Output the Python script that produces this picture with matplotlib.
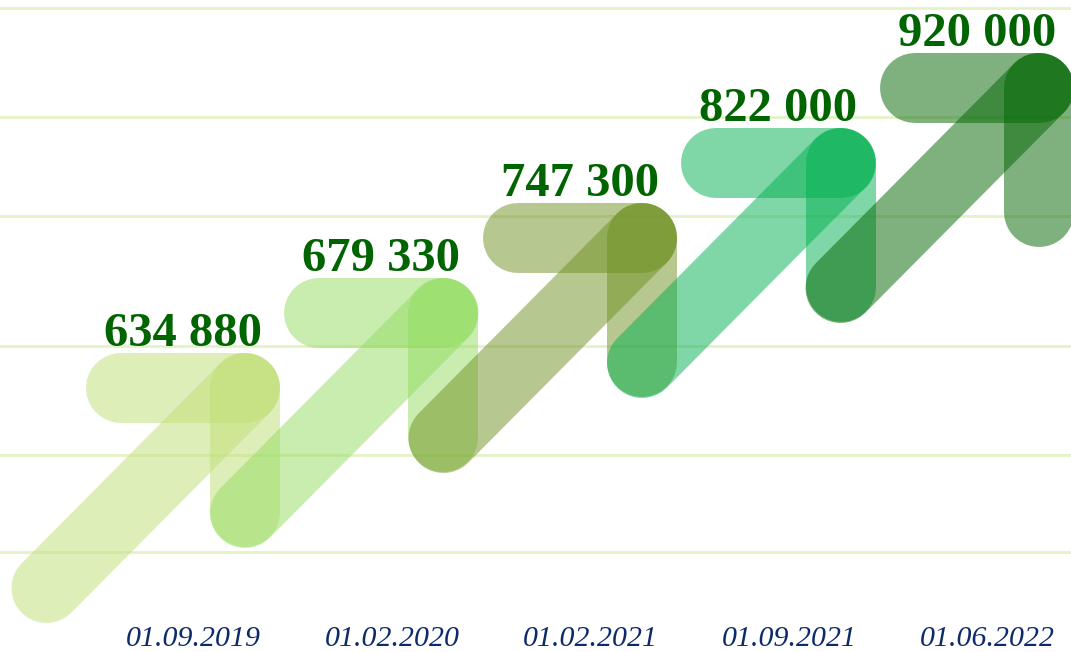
#!/usr/bin/env python3

# growth arrows with amounts by date
import matplotlib.pyplot as plt

# data
dates = ["01.09.2019", "01.02.2020", "01.02.2021", "01.09.2021", "01.06.2022"]
amounts = [634880, 679330, 747300, 822000, 920000]
arrow_colors = ["#bfdf75", "#93dd61", "#6f9121", "#01b151", "#016501"]

# background guide lines, as fraction of figure height
grid_levels = [0.988, 0.821, 0.669, 0.469, 0.302, 0.153]


def fmt(v):
    return f"{v:,}".replace(",", " ")


def main():
    fig = plt.figure(figsize=(10.71, 6.52), dpi=100, facecolor="white")

    # guide lines behind everything
    bg = fig.add_axes([0, 0, 1, 1])
    bg.set_xlim(0, 1)
    bg.set_ylim(0, 1)
    bg.axis("off")
    for g in grid_levels:
        bg.axhline(g, color="#e4f2c8", lw=2.0, zorder=0)

    ax = fig.add_axes([0, 0, 1, 1])
    ax.patch.set_alpha(0)
    ax.axis("off")
    ax.set_xlim(-1.234, 4.161)
    ax.set_ylim(-3.52, 5.173)

    # arrow shape (in data units): bar to the left, bar down, long diagonal
    hlen, vlen = 0.625, 1.653
    ddx, ddy = 1.0, 2.667
    lw = 50.4

    for i, (v, c) in enumerate(zip(amounts, arrow_colors)):
        cx, cy = i, i
        kw = dict(color=c, alpha=0.5, lw=lw, solid_capstyle="round", zorder=2 + i)
        ax.plot([cx - hlen, cx], [cy, cy], **kw)
        ax.plot([cx, cx], [cy, cy - vlen], **kw)
        ax.plot([cx - ddx, cx], [cy - ddy, cy], **kw)

        ax.annotate(fmt(v), xy=(cx - hlen / 2, cy), xytext=(0, 30),
                    textcoords="offset points", ha="center", va="baseline",
                    fontsize=35, fontweight="bold", family="Liberation Serif",
                    color="#006400", zorder=20)

    # date labels along the bottom
    for i, d in enumerate(dates):
        ax.text(i - 0.26, 0.0, d, transform=ax.get_xaxis_transform(),
                ha="center", va="bottom", fontsize=21.5, style="italic",
                family="Liberation Serif", color="#0d2b6b", zorder=20)

    fig.savefig("out.png", dpi=100, facecolor="white")


if __name__ == "__main__":
    main()
